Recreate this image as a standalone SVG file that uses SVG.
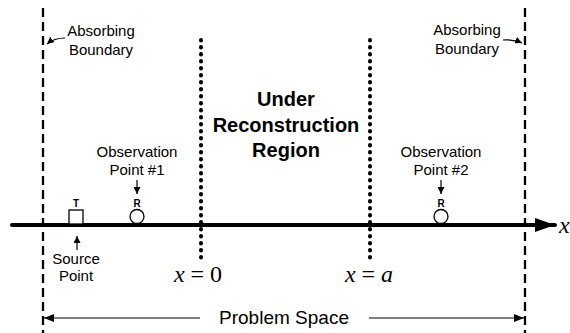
<svg xmlns="http://www.w3.org/2000/svg" width="570" height="333" viewBox="0 0 570 333">
<style>
  .lbl { font-family: "Liberation Sans", Arial, sans-serif; font-size: 15px; fill: #000; text-anchor: middle; }
  .big { font-family: "Liberation Sans", Arial, sans-serif; font-size: 20px; font-weight: bold; fill: #000; text-anchor: middle; }
  .tiny { font-family: "Liberation Sans", Arial, sans-serif; font-size: 10px; font-weight: bold; fill: #000; text-anchor: middle; }
  .math { font-family: "Liberation Serif", "Times New Roman", serif; font-size: 24px; fill: #000; text-anchor: middle; }
  .mi { font-style: italic; }
  .dash { stroke: #000; stroke-width: 2.3; stroke-dasharray: 9 5; fill: none; }
  .dot { stroke: #000; stroke-width: 4; stroke-dasharray: 0.5 6.5; stroke-linecap: round; fill: none; }
  .thin { stroke: #000; stroke-width: 1.2; fill: none; }
</style>
<defs>
  <marker id="ah" viewBox="0 0 10 10" refX="10" refY="5" markerWidth="7" markerHeight="7" markerUnits="userSpaceOnUse" orient="auto">
    <path d="M0,0 L10,5 L0,10 Z" fill="#000"/>
  </marker>
  <marker id="ahp" viewBox="0 0 10 10" refX="10" refY="5" markerWidth="10" markerHeight="8" markerUnits="userSpaceOnUse" orient="auto" preserveAspectRatio="none">
    <path d="M0,0 L10,5 L0,10 Z" fill="#000"/>
  </marker>
  <marker id="big" viewBox="0 0 20 14" refX="20" refY="7" markerWidth="20" markerHeight="14" markerUnits="userSpaceOnUse" orient="auto">
    <path d="M0,0 L20,7 L0,14 Z" fill="#000"/>
  </marker>
</defs>

<g id="boundaries">
  <line class="dash" x1="43" y1="8" x2="43" y2="333"/>
  <line class="dash" x1="525" y1="8" x2="525" y2="333"/>
</g>

<g id="region-lines">
  <line class="dot" x1="201" y1="40" x2="201" y2="258"/>
  <line class="dot" x1="370" y1="40" x2="370" y2="258"/>
</g>

<g id="axis">
  <line x1="12" y1="225" x2="555" y2="225" stroke="#000" stroke-width="4" stroke-linecap="round" marker-end="url(#big)"/>
  <text class="math mi" x="559" y="233" style="text-anchor:start">x</text>
</g>

<g id="connectors">
  <path class="thin" d="M65,38 Q54,38 47,44" marker-end="url(#ah)"/>
  <path class="thin" d="M503,40 Q513,39 522,43" marker-end="url(#ah)"/>
  <line class="thin" x1="137" y1="180" x2="137" y2="194" marker-end="url(#ah)"/>
  <line class="thin" x1="441" y1="180" x2="441" y2="194" marker-end="url(#ah)"/>
  <line class="thin" x1="77" y1="250" x2="77" y2="236" marker-end="url(#ah)"/>
  <line class="thin" x1="200" y1="318" x2="44" y2="318" marker-end="url(#ahp)"/>
  <line class="thin" x1="369" y1="318" x2="524" y2="318" marker-end="url(#ahp)"/>
</g>

<g id="absorbing-left">
  <text class="lbl" x="101" y="36">Absorbing</text>
  <text class="lbl" x="101" y="55">Boundary</text>
</g>
<g id="absorbing-right">
  <text class="lbl" x="467" y="35">Absorbing</text>
  <text class="lbl" x="467" y="54">Boundary</text>
</g>

<g id="region-label">
  <text class="big" x="286" y="106">Under</text>
  <text class="big" x="286" y="132">Reconstruction</text>
  <text class="big" x="286" y="157">Region</text>
</g>

<g id="source">
  <rect x="69" y="210" width="14" height="14" fill="#fff" stroke="#000" stroke-width="1.3"/>
  <text class="tiny" x="76" y="207">T</text>
  <text class="lbl" x="76" y="264">Source</text>
  <text class="lbl" x="76" y="281">Point</text>
</g>

<g id="obs1">
  <circle cx="137" cy="216.5" r="7" fill="#fff" stroke="#000" stroke-width="1.3"/>
  <text class="tiny" x="137" y="207">R</text>
  <text class="lbl" x="137" y="157">Observation</text>
  <text class="lbl" x="137" y="175">Point #1</text>
</g>

<g id="obs2">
  <circle cx="441" cy="216.5" r="7" fill="#fff" stroke="#000" stroke-width="1.3"/>
  <text class="tiny" x="441" y="207">R</text>
  <text class="lbl" x="441" y="157">Observation</text>
  <text class="lbl" x="441" y="175">Point #2</text>
</g>

<g id="x0">
  <text class="math" x="198" y="282"><tspan class="mi">x</tspan> = 0</text>
</g>
<g id="xa">
  <text class="math" x="369" y="282"><tspan class="mi">x</tspan> = <tspan class="mi">a</tspan></text>
</g>

<g id="problem-space">
  <text class="lbl" x="284" y="324" style="font-size:19px">Problem Space</text>
</g>
</svg>
